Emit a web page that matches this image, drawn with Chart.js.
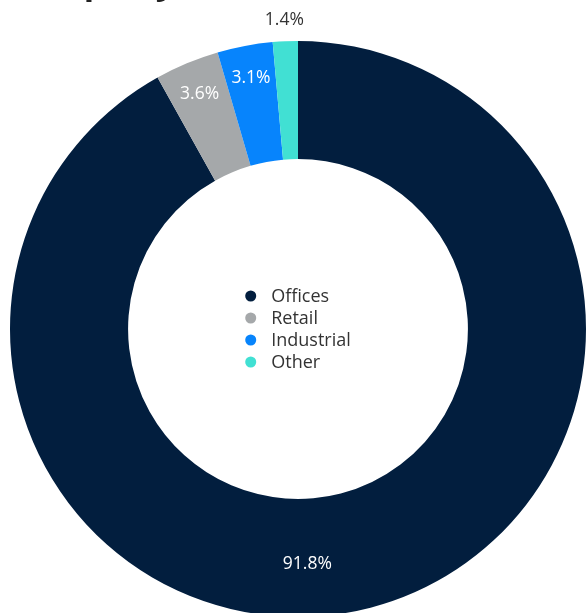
<!DOCTYPE html>
<html>
<head>
<meta charset="utf-8">
<script src="https://cdn.jsdelivr.net/npm/chart.js@4"></script>
<style>
  html, body { margin: 0; padding: 0; background: #fff; overflow: hidden; }
  #wrap { width: 587px; height: 640px; }
</style>
</head>
<body>
<div id="wrap"><canvas id="donut" width="587" height="640"></canvas></div>
<script>
const categories = ['Offices', 'Retail', 'Industrial', 'Other'];
const shares = [91.8, 3.6, 3.1, 1.4];
const sliceColors = ['#021e3e', '#a5a8aa', '#0784fc', '#41e0d3'];
const titleText = 'Property';

const FONT = '"Open Sans", "Noto Sans", sans-serif';

// title is mostly above the visible area, only descenders show
const titlePlugin = {
    id: 'cutTitle',
    afterDraw(chart) {
        const ctx = chart.ctx;
        ctx.save();
        ctx.font = 'bold 34px ' + FONT;
        ctx.fillStyle = '#222';
        ctx.textBaseline = 'alphabetic';
        ctx.textAlign = 'left';
        ctx.fillText(titleText, 26, -6);
        ctx.restore();
    }
};

// percentage labels: inside for big slices, outside for tiny ones
const sliceLabels = {
    id: 'sliceLabels',
    afterDatasetsDraw(chart) {
        const ctx = chart.ctx;
        const meta = chart.getDatasetMeta(0);
        ctx.save();
        ctx.font = '17.5px ' + FONT;
        ctx.textAlign = 'center';
        ctx.textBaseline = 'middle';
        meta.data.forEach((arc, i) => {
            const p = arc.getProps(['x', 'y', 'startAngle', 'endAngle', 'innerRadius', 'outerRadius'], true);
            let mid = (p.startAngle + p.endAngle) / 2;
            const band = p.outerRadius - p.innerRadius;
            let r, color;
            if (shares[i] < 2) {
                r = p.outerRadius + 21;
                color = '#333';
            } else if (shares[i] > 50) {
                // the big slice gets its label at the bottom of the ring
                mid = Math.PI / 2 - 0.04;
                r = p.innerRadius + band * 0.55;
                color = '#fff';
            } else {
                r = p.innerRadius + band * 0.72;
                color = '#fff';
            }
            ctx.fillStyle = color;
            ctx.fillText(shares[i].toFixed(1) + '%', p.x + Math.cos(mid) * r, p.y + Math.sin(mid) * r);
        });
        ctx.restore();
    }
};

// legend drawn in the hole of the doughnut
const centerLegend = {
    id: 'centerLegend',
    afterDraw(chart) {
        const ctx = chart.ctx;
        const arc = chart.getDatasetMeta(0).data[0];
        const cx = arc.x, cy = arc.y;
        ctx.save();
        ctx.font = '18px ' + FONT;
        let maxW = 0;
        categories.forEach(c => { maxW = Math.max(maxW, ctx.measureText(c).width); });
        const dot = 5.5, gap = 15, row = 22;
        const blockW = dot * 2 + gap + maxW;
        const left = cx - blockW / 2;
        const top = cy - row * categories.length / 2 + row / 2;
        ctx.textAlign = 'left';
        ctx.textBaseline = 'middle';
        categories.forEach((c, i) => {
            const y = top + i * row;
            ctx.beginPath();
            ctx.arc(left + dot, y, dot, 0, Math.PI * 2);
            ctx.fillStyle = sliceColors[i];
            ctx.fill();
            ctx.fillStyle = '#333';
            ctx.fillText(c, left + dot * 2 + gap, y + 1);
        });
        ctx.restore();
    }
};

const chart = new Chart(document.getElementById('donut').getContext('2d'), {
    type: 'doughnut',
    data: {
        labels: categories,
        datasets: [{
            data: shares,
            backgroundColor: sliceColors,
            borderWidth: 0
        }]
    },
    options: {
        responsive: false,
        animation: false,
        cutout: '59%',
        layout: { padding: { left: 10, right: 1, top: 41, bottom: 23 } },
        plugins: {
            legend: { display: false },
            tooltip: { enabled: false }
        }
    },
    plugins: [sliceLabels, centerLegend, titlePlugin]
});
</script>
</body>
</html>
